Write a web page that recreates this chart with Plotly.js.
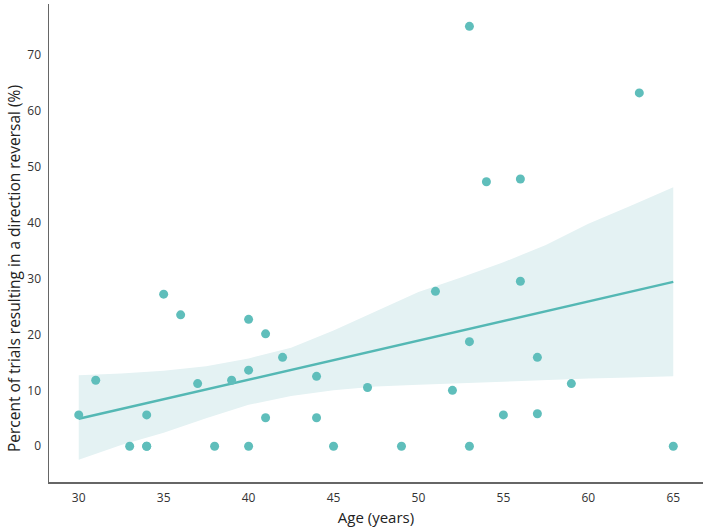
<!DOCTYPE html>
<html>
<head>
<meta charset="utf-8">
<script src="https://cdn.plot.ly/plotly-3.0.1.min.js"></script>
<style>html,body{margin:0;padding:0;background:#fff;}#chart{width:709px;height:531px;}</style>
</head>
<body>
<div id="chart"></div>
<script>
// Scatter data: age (years) vs percent of trials resulting in a direction reversal
const ages = [30, 31, 33, 34, 34, 34, 35, 36, 37, 38, 39, 40, 40, 40, 41, 41, 42, 44, 44, 45,
              47, 49, 51, 52, 53, 53, 53, 54, 55, 56, 56, 57, 57, 59, 63, 65];
const pct  = [5.6, 11.8, 0, 0, 0, 5.6, 27.2, 23.5, 11.2, 0, 11.8, 22.7, 13.6, 0, 20.1, 5.1, 15.9, 12.5, 5.1, 0,
              10.5, 0, 27.7, 10.0, 18.7, 0, 75.1, 47.3, 5.6, 29.5, 47.8, 15.9, 5.8, 11.2, 63.2, 0];

// Regression line endpoints
const fitX = [30, 65];
const fitY = [4.9, 29.4];

// Confidence band
const bandX     = [30, 32.5, 35, 37.5, 40, 42.5, 45, 47.5, 50, 52.5, 55, 57.5, 60, 62.5, 65];
const bandUpper = [12.7, 13.0, 13.5, 14.3, 15.7, 17.6, 20.7, 24.2, 27.6, 30.2, 32.9, 36.0, 39.8, 43.0, 46.3];
const bandLower = [-2.4, 0.2, 2.4, 5.0, 7.4, 9.0, 10.0, 10.7, 11.0, 11.3, 11.6, 11.9, 12.1, 12.3, 12.5];

const xTicks = [30, 35, 40, 45, 50, 55, 60, 65];
const yTicks = [0, 10, 20, 30, 40, 50, 60, 70];

const xTitle = 'Age (years)';
const yTitle = 'Percent of trials resulting in a direction reversal (%)';

const teal = 'rgb(84,184,180)';

const traces = [
  {x: bandX, y: bandLower, mode: 'lines', line: {width: 0, color: 'rgba(0,0,0,0)'}, hoverinfo: 'skip', showlegend: false},
  {x: bandX, y: bandUpper, mode: 'lines', line: {width: 0, color: 'rgba(0,0,0,0)'}, fill: 'tonexty',
   fillcolor: 'rgb(228,242,243)', hoverinfo: 'skip', showlegend: false},
  {x: fitX, y: fitY, mode: 'lines', line: {width: 2.5, color: teal}, showlegend: false},
  {x: ages, y: pct, mode: 'markers', marker: {size: 9, color: 'rgb(95,190,187)'}, showlegend: false}
];

const layout = {
  width: 709, height: 531,
  margin: {l: 49, r: 6, t: 4, b: 49},
  paper_bgcolor: '#fff', plot_bgcolor: '#fff',
  font: {family: 'Open Sans, sans-serif', color: '#333', size: 12},
  showlegend: false,
  xaxis: {
    range: [28.25, 66.75], tickvals: xTicks, ticktext: xTicks.map(String),
    showgrid: false, zeroline: false, showline: true, linecolor: '#666', linewidth: 1.5,
    ticks: '', ticklabelstandoff: 4,
    tickfont: {size: 12, color: '#333'},
    title: {text: xTitle, font: {size: 15, color: '#222'}, standoff: 7}
  },
  yaxis: {
    range: [-6.4, 79.1], tickvals: yTicks, ticktext: yTicks.map(String),
    showgrid: false, zeroline: false, showline: true, linecolor: '#666', linewidth: 1.5,
    ticks: '', ticklabelstandoff: 4,
    tickfont: {size: 12, color: '#333'}
  },
  annotations: [{
    text: yTitle, xref: 'paper', yref: 'paper', x: -0.0535, y: 0.4456,
    xanchor: 'center', yanchor: 'middle', textangle: -90, showarrow: false,
    font: {size: 15.5, color: '#222', family: 'Open Sans, sans-serif'}
  }]
};

Plotly.newPlot('chart', traces, layout, {displayModeBar: false, staticPlot: true});
</script>
</body>
</html>
